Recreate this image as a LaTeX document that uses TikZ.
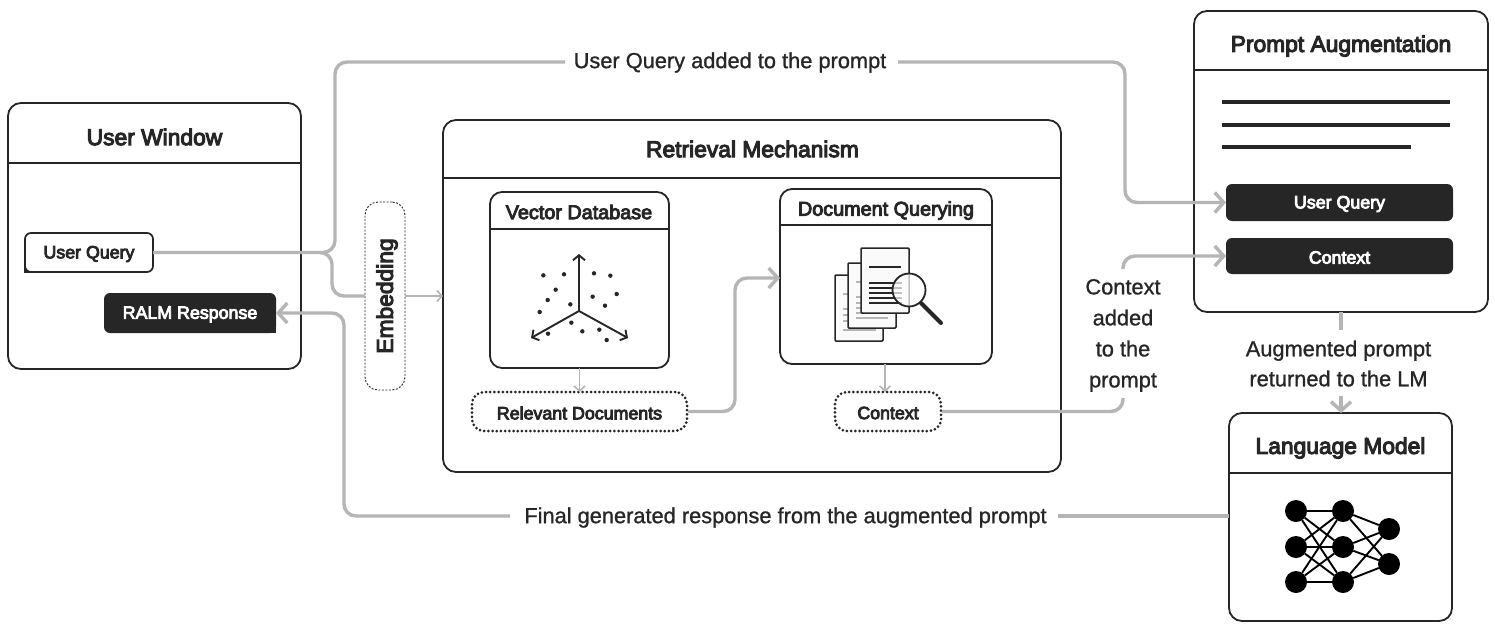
\documentclass[tikz,border=0pt]{standalone}
\usepackage{fontspec}
\setmainfont{Liberation Sans}
\newfontfamily\medfont[FakeBold=4.5]{Liberation Sans}
\newfontfamily\labfont[FakeBold=1]{Liberation Sans}
\usetikzlibrary{arrows.meta,calc}
\definecolor{ink}{HTML}{262626}
\definecolor{wire}{HTML}{B5B5B5}
\newcommand{\lowered}[1]{\raisebox{-1.5pt}[\height][\depth]{#1}}
\tikzset{
 x=1pt,y=-1pt,
 win/.style={draw=ink,line width=1.8pt,rounded corners=13pt,fill=white,inner sep=0pt,outer sep=0pt},
 winsm/.style={win,rounded corners=12pt},
 hdr/.style={draw=ink,line width=1.4pt},
 title/.style={font=\medfont\fontsize{22.8}{27}\selectfont,text=ink,inner sep=0pt},
 subtitle/.style={font=\medfont\fontsize{19.8}{23}\selectfont,text=ink,inner sep=0pt},
 small/.style={font=\medfont\fontsize{17.8}{21}\selectfont,inner sep=0pt},
 lab/.style={font=\labfont\fontsize{21.8}{31}\selectfont,text=ink,inner sep=0pt,align=center},
 darkbox/.style={fill=ink,rounded corners=6pt,inner sep=0pt,outer sep=0pt,text=white,small},
 lightbox/.style={draw=ink,line width=1.7pt,rounded corners=6pt,fill=white,inner sep=0pt,outer sep=0pt,text=ink,small},
 dotbox/.style={draw=ink,line width=3pt,dash pattern=on 0pt off 4.2pt,line cap=round,rounded corners=12pt,inner sep=0pt,outer sep=0pt,text=ink,small},
 embbox/.style={draw=ink,line width=.9pt,dash pattern=on 2pt off 1.5pt,rounded corners=13pt,inner sep=0pt,outer sep=0pt},
 conn/.style={draw=wire,line width=3.4pt,rounded corners=12pt},
 connarrow/.style={conn,-{Straight Barb[length=9pt,width=20pt,line width=3.4pt]}},
 thinarrow/.style={draw=wire,line width=1.6pt,-{Straight Barb[length=5pt,width=11pt,line width=1.6pt]}},
 axisarrow/.style={draw=ink,line width=1.9pt,-{Straight Barb[length=5pt,width=12pt,line width=1.9pt]}},
 neuron/.style={circle,fill=black,minimum size=22pt,inner sep=0pt,outer sep=0pt},
 synapse/.style={draw=black,line width=1.9pt},
 pagebox/.style={draw=ink,line width=1.5pt,fill=black!2,rounded corners=1pt},
 grayline/.style={draw=wire,line width=1.4pt},
 textline/.style={draw=ink,line width=1.5pt},
 bar/.style={draw=ink,line width=3.4pt},
 dot/.style={circle,fill=ink,minimum size=4.4pt,inner sep=0pt},
}
\newcommand{\boxat}[7]{% style, name, x1,y1,x2,y2, text
 \pgfmathsetmacro{\bcx}{(#3+#5)/2}\pgfmathsetmacro{\bcy}{(#4+#6)/2}
 \pgfmathsetmacro{\bw}{#5-#3}\pgfmathsetmacro{\bh}{#6-#4}
 \node[#1,minimum width=\bw pt,minimum height=\bh pt] (#2) at (\bcx,\bcy) {#7};
}
\begin{document}
\begin{tikzpicture}
\useasboundingbox (0,0) rectangle (1495,632);
\fill[white] (0,0) rectangle (1495,632);

% windows
\boxat{win}{userwin}{8}{103}{301}{369}{}
\draw[hdr] (8,163) -- (301,163);
\node[title] (userwintitle) at (154.5,137) {User Window};

\boxat{win}{retrieval}{443}{120}{1061}{472}{}
\draw[hdr] (443,178) -- (1061,178);
\node[title] (retrievaltitle) at (752.5,149) {Retrieval Mechanism};

\boxat{win}{promptwin}{1194}{11}{1488}{312}{}
\draw[hdr] (1194,70) -- (1488,70);
\node[title] (prompttitle) at (1341,46) {Prompt Augmentation};
\draw[bar] (1222,102) -- (1450,102);
\draw[bar] (1222,125) -- (1450,125);
\draw[bar] (1222,147) -- (1411,147);

\boxat{win}{langwin}{1229}{413}{1452}{621}{}
\draw[hdr] (1229,473) -- (1452,473);
\node[title] (langtitle) at (1340.5,448) {Language Model};

\boxat{winsm}{vecdb}{490}{192}{669}{368}{}
\draw[hdr] (490,229) -- (669,229);
\node[subtitle] (vectitle) at (579,212) {Vector Database};

\boxat{winsm}{docq}{780}{189}{992}{364}{}
\draw[hdr] (780,225) -- (992,225);
\node[subtitle] (doctitle) at (886,210.5) {Document Querying};

% small boxes
\boxat{lightbox}{uq}{25}{233}{153}{272}{\lowered{User Query}}
\draw[draw=ink,line width=1.7pt] ($(uq.south west)+(0,-9)$) -- (uq.south west) -- ++(9,0);
\boxat{darkbox}{ralm}{104}{293}{276}{333}{\lowered{RALM Response}}
\fill[ink] (ralm.south east) rectangle ++(-10,-10);
\boxat{embbox}{emb}{365}{202}{405}{390}{}
\node[rotate=90,title] (embtext) at (387,296) {Embedding};
\boxat{dotbox}{reldocs}{472}{392}{687}{431}{\lowered{Relevant Documents}}
\boxat{dotbox}{ctx}{835}{392}{941}{431}{\lowered{Context}}
\boxat{darkbox}{pquery}{1226}{184}{1453}{221}{\lowered{User Query}}
\boxat{darkbox}{pctx}{1226}{238}{1453}{274}{\lowered{Context}}

% labels
\node[lab] (l1) at (730,62.5) {User Query added to the prompt};
\node[lab] (l2) at (785.5,517.5) {Final generated response from the augmented prompt};
\node[lab] (l3) at (1123,335.5) {Context\\added\\to the\\prompt};
\node[lab,font=\labfont\fontsize{21.8}{30}\selectfont] (l4) at (1338.5,363.5) {Augmented prompt\\returned to the LM};

% vector axes
\coordinate (origin) at (579,311);
\coordinate (axu) at (579,254);
\coordinate (axl) at (531,338);
\coordinate (axr) at (628,338);
\draw[axisarrow] (origin) -- (axu);
\draw[axisarrow] (origin) -- (axl);
\draw[axisarrow] (origin) -- (axr);
\foreach \a/\b in {250/286,312/283,402/280,451/287,287/329,470/342,263/360,398/350,435/377,331/373,239/396,334/428,264/461,367/454,418/449,440/480}
  \node[dot] at ({460+\a/3},{180+\b/3}) {};

% document icon
\draw[pagebox] (835,275) rectangle (883,341);
\foreach \yy in {294,309,315,321} \draw[grayline] (843,\yy) -- (875,\yy);
\draw[grayline] (843,330) -- (876,330);
\draw[pagebox] (848,263) rectangle (896,328);
\foreach \yy in {282,297,303,308,313} \draw[grayline] (856,\yy) -- (888,\yy);
\draw[grayline] (856,318) -- (888,318);
\draw[pagebox] (861,248) rectangle (909,313);
\draw[textline] (869,267) -- (901,267);
\foreach \yy in {283,288,293,298,303} \draw[textline] (869,\yy) -- (902,\yy);
\draw[ink,line width=4pt,line cap=round] (921,303) -- (941,323);
\draw[ink,line width=1.8pt,fill=white,fill opacity=.72] (909,290) circle (16.5);

% neural net
\foreach \n/\px/\py in {a1/1296/511,a2/1296/547,a3/1296/582,b1/1343/511,b2/1343/547,b3/1343/582,c1/1389/529,c2/1389/564}
  \node[neuron] (\n) at (\px,\py) {};
\foreach \p in {a1,a2,a3} \foreach \q in {b1,b2,b3} \draw[synapse] (\p) -- (\q);
\foreach \p in {b1,b2,b3} \foreach \q in {c1,c2} \draw[synapse] (\p) -- (\q);

% connectors
\coordinate (ctxup) at (1123,269);
\coordinate (ctxdown) at (1123,398);
\draw[conn] (uq.east) -- (335,252.5) -- (335,62) -- (565,62);
\draw[connarrow] (898,62) -- (1125,62) -- (1125,202.5) -- (pquery.west);
\draw[conn] (320,252.5) -- (332,252.5) -- (332,296) -- (emb.west);
\draw[thinarrow] (emb.east) -- (retrieval.west |- emb.east);
\draw[connarrow] (510,516) -- (344,516) -- (344,313) -- (ralm.east);
\draw[conn] (langwin.west |- 0,516) -- (1058,516);
\draw[thinarrow] (vecdb.south) -- (reldocs.north -| vecdb.south);
\draw[thinarrow] (885,364) -- (885,392);
\draw[connarrow] ($(reldocs.east)+(1,0)$) -- (735,411.5) -- (735,278) -- (docq.west |- 0,278);
\draw[conn] ($(ctx.east)+(1,0)$) -- (1123,411.5) -- (ctxdown);
\draw[connarrow] (ctxup) -- (1123,256) -- (pctx.west);
\draw[conn] (promptwin.south -| 1341,0) -- (1341,330);
\draw[connarrow] (1341,396) -- (langwin.north -| 1341,0);
\end{tikzpicture}
\end{document}
